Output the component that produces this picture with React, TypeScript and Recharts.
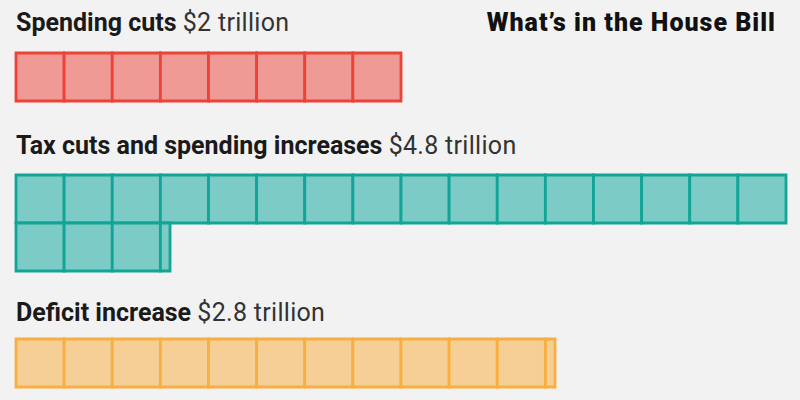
import React from 'react';
import { BarChart, Bar, XAxis, YAxis } from 'recharts';

// Data
const GROUPS = ['Spending cuts', 'Tax cuts and spending increases', 'Deficit increase'];
const AMOUNTS = [2, 4.8, 2.8]; // trillions of dollars
const AMOUNT_LABELS = ['$2 trillion', '$4.8 trillion', '$2.8 trillion'];
const FILLS = ['#f09a96', '#7ccbc6', '#f5cf96'];
const STROKES = ['#ec4239', '#11a595', '#f9ae40'];

const BLOCK = 0.25; // one square = $0.25 trillion
const ROW_CAP = 4; // 16 squares per row
const SEGMENTS = Array.from({ length: ROW_CAP / BLOCK }, (_, i) => `s${i}`);

// split a total into rows of squares, each row stacked from 0.25 pieces
function buildRows(total: number) {
  const rows: Record<string, number | string>[] = [];
  let left = total;
  let r = 0;
  while (left > 1e-9) {
    const rowVal = Math.min(ROW_CAP, left);
    const row: Record<string, number | string> = { row: `r${r}` };
    SEGMENTS.forEach((k, i) => {
      row[k] = Math.max(0, Math.min(BLOCK, rowVal - i * BLOCK));
    });
    rows.push(row);
    left -= rowVal;
    r++;
  }
  return rows;
}

const ROW_H = 48;
const PAD = 2;
const CHART_LEFT = 14;
const CHART_W = 774;
const TITLE_TOPS = [8.5, 131.5, 298.5];
const CHART_TOPS = [51, 173, 337];

const font = "'Roboto', 'Liberation Sans', sans-serif";

function Waffle({ idx }: { idx: number }) {
  const data = buildRows(AMOUNTS[idx]);
  return (
    <div style={{ position: 'absolute', left: CHART_LEFT, top: CHART_TOPS[idx] }}>
      <BarChart
        width={CHART_W}
        height={data.length * ROW_H + PAD * 2}
        data={data}
        layout="vertical"
        barCategoryGap={0}
        margin={{ top: PAD, right: PAD, bottom: PAD, left: PAD }}
      >
        <XAxis type="number" domain={[0, ROW_CAP]} hide />
        <YAxis type="category" dataKey="row" hide />
        {SEGMENTS.map((k) => (
          <Bar
            key={k}
            dataKey={k}
            stackId="a"
            fill={FILLS[idx]}
            stroke={STROKES[idx]}
            strokeWidth={2.8}
            isAnimationActive={false}
          />
        ))}
      </BarChart>
    </div>
  );
}

export default function App() {
  return (
    <div
      style={{
        position: 'fixed',
        left: 0,
        top: 0,
        width: 800,
        height: 400,
        background: '#f2f2f2',
        fontFamily: font,
        color: '#1a1a1a',
      }}
    >
      <div
        style={{
          position: 'absolute',
          right: 24,
          top: 8.5,
          fontSize: 25,
          fontWeight: 900,
          letterSpacing: 1,
          color: '#111',
          lineHeight: '28px',
          whiteSpace: 'nowrap',
        }}
      >
        What’s in the House Bill
      </div>
      {GROUPS.map((g, i) => (
        <div
          key={g}
          style={{
            position: 'absolute',
            left: 16,
            top: TITLE_TOPS[i],
            fontSize: 25,
            lineHeight: '28px',
            whiteSpace: 'nowrap',
          }}
        >
          <span style={{ fontWeight: 700 }}>{g}</span>{' '}
          <span style={{ fontWeight: 400, color: '#333', letterSpacing: 0.3 }}>{AMOUNT_LABELS[i]}</span>
        </div>
      ))}
      {GROUPS.map((g, i) => (
        <Waffle key={g} idx={i} />
      ))}
    </div>
  );
}
